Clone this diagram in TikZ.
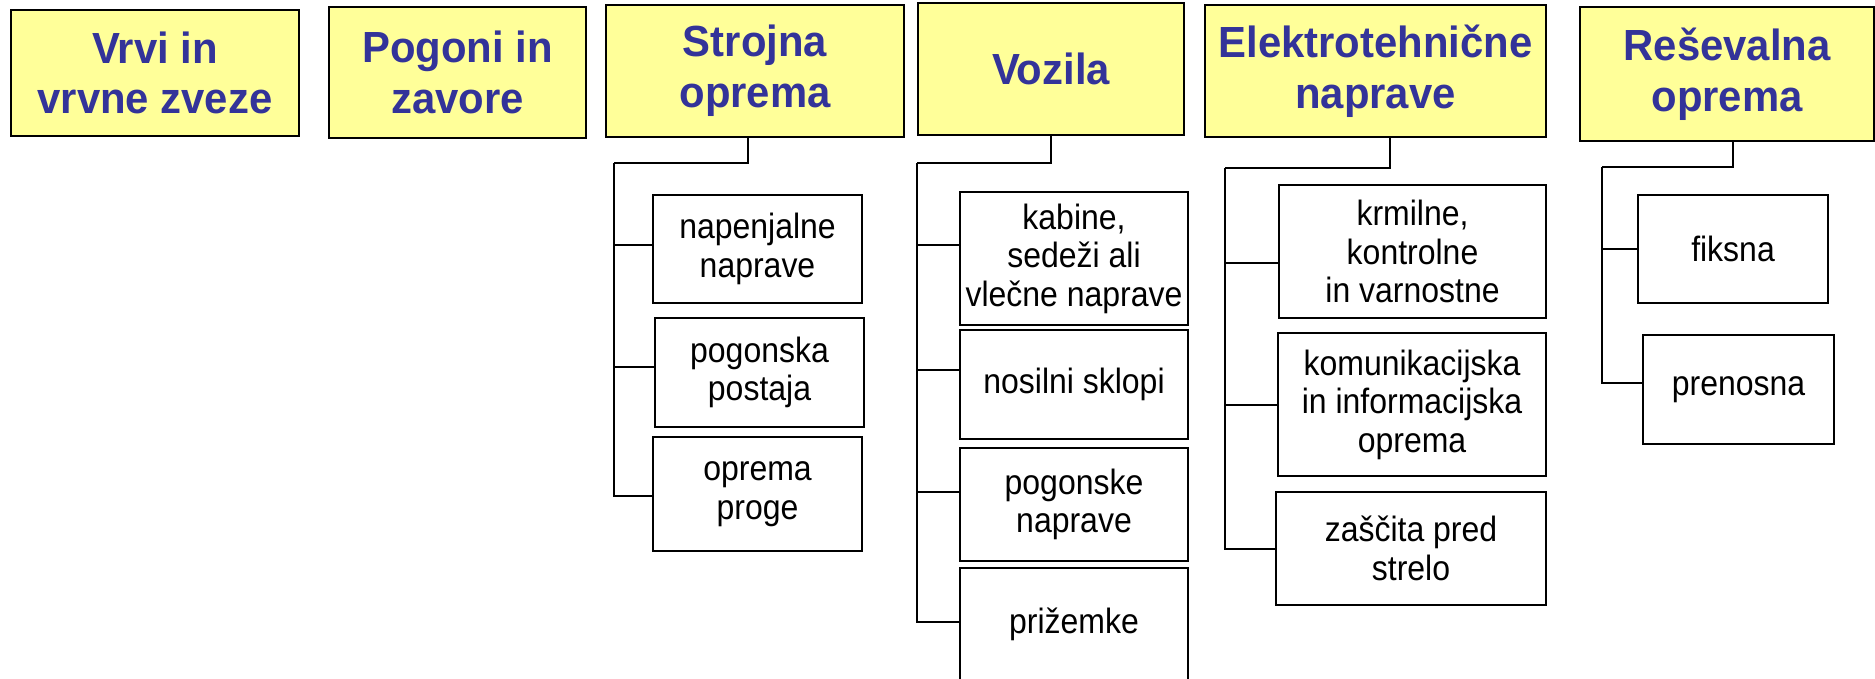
\documentclass[tikz,border=0pt]{standalone}
\usepackage{fontspec}
\setmainfont{Liberation Sans}
\newfontfamily\headfont[FakeStretch=0.96]{Liberation Sans}
\newfontfamily\partfont[FakeStretch=0.91]{Liberation Sans}
\usetikzlibrary{calc}
\definecolor{headfill}{RGB}{255,255,153}
\definecolor{headblue}{RGB}{51,51,153}
\tikzset{
  head/.style={draw=black, line width=0.6pt, fill=headfill, text=headblue,
    font=\headfont\fontsize{12.4}{14.4}\selectfont\bfseries, align=center, inner sep=0pt},
  part/.style={draw=black, line width=0.55pt, fill=white,
    font=\partfont\fontsize{10}{10.95}\selectfont, align=center, inner sep=0pt},
  boxsize/.style 2 args={minimum width=#1mm, minimum height=#2mm},
  link/.style={line width=0.45pt}
}
\begin{document}
\begin{tikzpicture}[x=1mm, y=1mm]
  \path[use as bounding box, fill=white] (0,0) rectangle (187.5,-67.9);
  % main groups
  \node[head, boxsize={28.8}{12.6}] (vrvi) at (15.5,-7.3) {Vrvi in\\vrvne zveze};
  \node[head, boxsize={25.7}{13.1}] (pogoni) at (45.75,-7.25) {Pogoni in\\zavore};
  \node[head, boxsize={29.8}{13.2}] (strojna) at (75.5,-7.1) {Strojna\\oprema};
  \node[head, boxsize={26.6}{13.2}] (vozila) at (105.1,-6.9) {Vozila};
  \node[head, boxsize={34.1}{13.2}] (elektro) at (137.55,-7.1) {Elektrotehnične\\naprave};
  \node[head, boxsize={29.4}{13.4}] (resevalna) at (172.7,-7.4) {Reševalna\\oprema};
  % Strojna oprema
  \node[part, boxsize={20.9}{10.8}] (napenjalne) at (75.75,-24.9) {napenjalne\\naprave};
  \node[part, boxsize={20.9}{10.9}] (pogonska) at (75.95,-37.25) {pogonska\\postaja};
  \node[part, boxsize={20.9}{11.4}] (proge) at (75.75,-49.4) {oprema\\proge};
  % Vozila
  \node[part, boxsize={22.8}{13.3}] (kabine) at (107.4,-25.85) {kabine,\\sedeži ali\\vlečne naprave};
  \node[part, boxsize={22.8}{10.9}] (nosilni) at (107.4,-38.45) {nosilni sklopi};
  \node[part, boxsize={22.8}{11.3}] (pogonske) at (107.4,-50.45) {pogonske\\naprave};
  \node[part, boxsize={22.8}{11.2}] (prizemke) at (107.4,-62.4) {prižemke};
  % Elektrotehnicne naprave
  \node[part, boxsize={26.7}{13.3}] (krmilne) at (141.25,-25.15) {krmilne,\\kontrolne\\in varnostne};
  \node[part, boxsize={26.8}{14.3}] (komunikacijska) at (141.2,-40.45) {komunikacijska\\in informacijska\\oprema};
  \node[part, boxsize={27.0}{11.3}] (zascita) at (141.1,-54.85) {zaščita pred\\strelo};
  % Resevalna oprema
  \node[part, boxsize={19.0}{10.8}] (fiksna) at (173.3,-24.9) {fiksna};
  \node[part, boxsize={19.1}{10.9}] (prenosna) at (173.85,-38.95) {prenosna};
  % junctions
  \coordinate (sj) at (61.4,-16.3);
  \coordinate (vj) at (91.7,-16.3);
  \coordinate (ej) at (122.5,-16.8);
  \coordinate (rj) at (160.2,-16.7);
  % connectors
  \draw[link] ($(strojna.south)+(-0.7,0)$) |- (sj);
  \draw[link] (sj) |- ($(napenjalne.west)+(0,0.4)$);
  \draw[link] (sj) |- ($(pogonska.west)+(0,0.55)$);
  \draw[link] (sj) |- ($(proge.west)+(0,-0.2)$);
  \draw[link] (vozila.south) |- (vj);
  \draw[link] (vj) |- ($(kabine.west)+(0,1.35)$);
  \draw[link] (vj) |- ($(nosilni.west)+(0,1.45)$);
  \draw[link] (vj) |- ($(pogonske.west)+(0,1.25)$);
  \draw[link] (vj) |- ($(prizemke.west)+(0,0.2)$);
  \draw[link] ($(elektro.south)+(1.45,0)$) |- (ej);
  \draw[link] (ej) |- ($(krmilne.west)+(0,-1.15)$);
  \draw[link] (ej) |- ($(komunikacijska.west)+(0,-0.05)$);
  \draw[link] (ej) |- ($(zascita.west)+(0,-0.05)$);
  \draw[link] ($(resevalna.south)+(0.6,0)$) |- (rj);
  \draw[link] (rj) |- (fiksna.west);
  \draw[link] (rj) |- ($(prenosna.west)+(0,0.65)$);
\end{tikzpicture}
\end{document}
